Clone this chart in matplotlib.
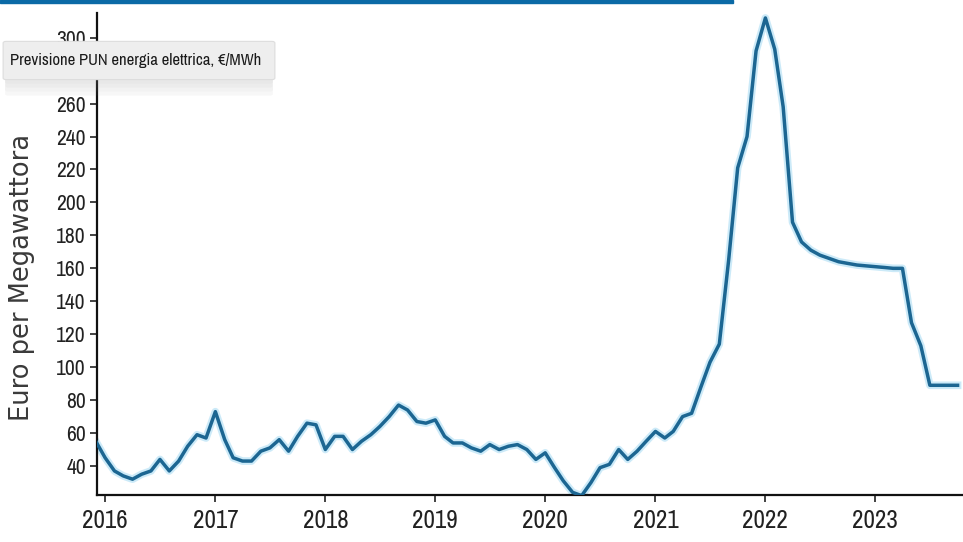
import numpy as np
import pandas as pd
import matplotlib
matplotlib.use("Agg")
import matplotlib.pyplot as plt
from matplotlib import font_manager
from matplotlib.patches import FancyBboxPatch

# monthly forecast of the PUN price, Dec 2015 .. Oct 2023 (EUR/MWh)
months = pd.date_range("2015-12-01", periods=95, freq="MS")
pun = [55, 45, 37, 34, 32, 35, 37, 44, 37, 43, 52, 59,          # Dec15 - Nov16
       57, 73, 56, 45, 43, 43, 49, 51, 56, 49, 58, 66,          # Dec16 - Nov17
       65, 50, 58, 58, 50, 55, 59, 64, 70, 77, 74, 67,          # Dec17 - Nov18
       66, 68, 58, 54, 54, 51, 49, 53, 50, 52, 53, 50,          # Dec18 - Nov19
       44, 48, 39, 31, 24, 22, 30, 39, 41, 50, 44, 49,          # Dec19 - Nov20
       55, 61, 57, 61, 70, 72, 88, 103, 114, 165, 221, 240,     # Dec20 - Nov21
       292, 312, 293, 258, 188, 176, 171, 168, 166, 164, 163, 162,  # Dec21 - Nov22
       161.5, 161, 160.5, 160, 160, 127, 113, 89, 89, 89, 89]   # Dec22 - Oct23

y_ticks = list(range(40, 301, 20))
y_hidden = [280]   # sits under the label box in the reference
year_labels = ["2016", "2017", "2018", "2019", "2020", "2021", "2022", "2023"]
y_title = "Euro per Megawattora"
box_text = "Previsione PUN energia elettrica, €/MWh"

# look for a narrow face, the reference uses a condensed font for the numbers
narrow, stretch = None, "normal"
for f in font_manager.fontManager.ttflist:
    nm = f.name.lower()
    if "narrow" in nm or "condensed" in nm:
        narrow, stretch = f.name, "normal"
        break
if narrow is None:
    for f in font_manager.fontManager.ttflist:
        if str(f.stretch) in ("condensed", "semi-condensed", "75", "87"):
            narrow, stretch = f.name, "condensed"
            break
if narrow is None:
    narrow, stretch = "DejaVu Sans", "normal"
    xt_size, yt_size, box_size = 16, 14, 9.5
else:
    xt_size, yt_size, box_size = 18, 15.5, 12

W, H = 963, 542
fig = plt.figure(figsize=(W / 100, H / 100), dpi=100)
fig.patch.set_facecolor("white")
ax = fig.add_axes([97 / W, 1 - 495 / H, 1 - 97 / W, (495 - 13) / H])

# glow + core line
ax.plot(months, pun, color="#9ad6f2", lw=5.5, alpha=0.5, solid_joinstyle="round", zorder=2)
ax.plot(months, pun, color="#1c6692", lw=2.5, solid_joinstyle="round", zorder=3)

ax.set_xlim(pd.Timestamp("2015-12-05"), pd.Timestamp("2023-10-19"))
ax.set_ylim(22.4, 315)
ax.set_yticks(y_ticks)
ax.set_yticklabels(["" if v in y_hidden else str(v) for v in y_ticks], fontfamily=narrow,
                   fontstretch=stretch, fontsize=yt_size)

year_pos = [pd.Timestamp(f"{y}-01-01") for y in year_labels]
ax.set_xticks(year_pos)
ax.set_xticklabels(year_labels, fontfamily=narrow, fontstretch=stretch, fontsize=xt_size)

for s in ["top", "right"]:
    ax.spines[s].set_visible(False)
for s in ["left", "bottom"]:
    ax.spines[s].set_linewidth(1.6)
    ax.spines[s].set_color("#111111")
ax.tick_params(axis="both", direction="out", length=5, width=1.2, colors="#222222")
ax.tick_params(axis="y", pad=3)
ax.tick_params(axis="x", pad=5)

# y axis title, set by hand to the left
fig.text(22 / W, 1 - 277 / H, y_title, rotation=90, ha="center", va="center",
         fontsize=18.5, color="#3a3a3a", family="DejaVu Sans")

# thin blue bar on top
fig.patches.append(plt.Rectangle((0, 1 - 3 / H), 733 / W, 3 / H, transform=fig.transFigure,
                                 color="#0b6aa6", zorder=10))

# tooltip-like label box with a soft shadow
for i, a in enumerate([0.05, 0.05, 0.06, 0.07]):
    off = 4 + i * 4
    fig.patches.append(FancyBboxPatch((8 / W, 1 - (78 + off) / H), 262 / W, (36 + off - 4) / H,
                                      boxstyle="round,pad=0.003", transform=fig.transFigure,
                                      facecolor="#999999", edgecolor="none", alpha=a, zorder=11))
fig.patches.append(FancyBboxPatch((6 / W, 1 - 78 / H), 266 / W, 35 / H,
                                  boxstyle="round,pad=0.003", transform=fig.transFigure,
                                  facecolor="#eeeeee", edgecolor="#dddddd", lw=0.8, zorder=12))
fig.text(10 / W, 1 - 61 / H, box_text, ha="left", va="center", fontsize=box_size,
         family=[narrow, "DejaVu Sans"], fontstretch=stretch, color="#1a1a1a", zorder=13)

fig.savefig("out.png", dpi=100, facecolor="white")
